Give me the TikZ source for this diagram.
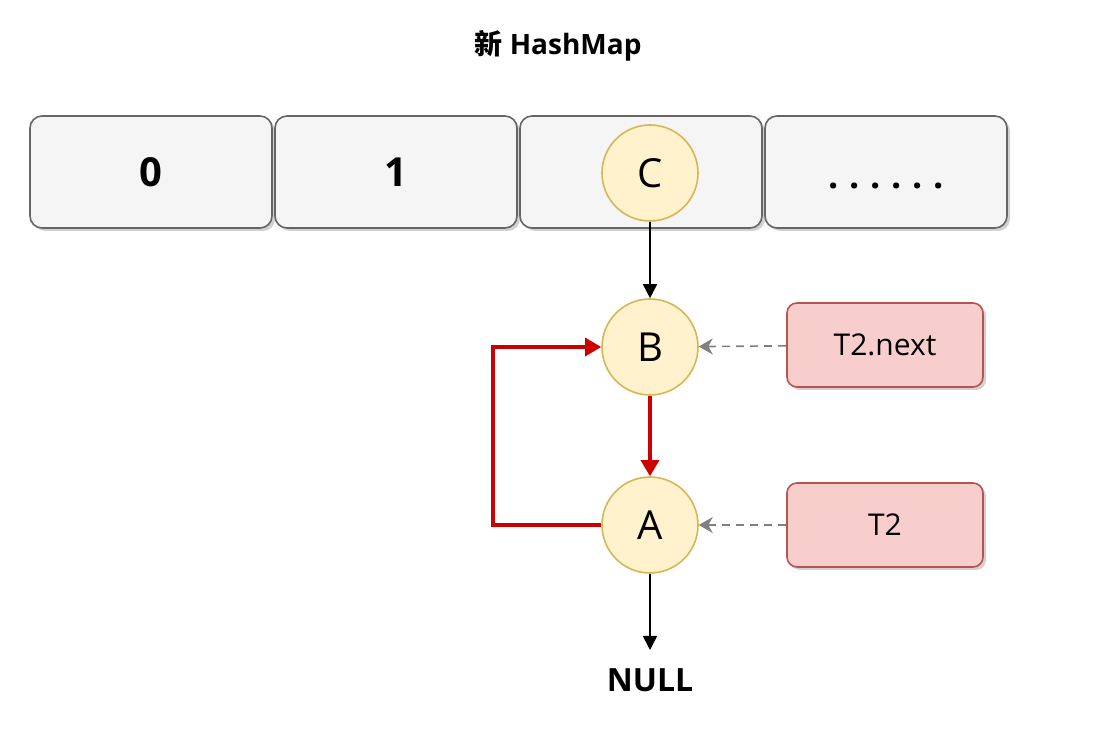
\documentclass[tikz,border=0pt]{standalone}
\usepackage{fontspec}
\setmainfont{Open Sans}
\newfontfamily\cjk{Noto Sans CJK SC}
\usetikzlibrary{arrows.meta,shadows}
\definecolor{cellfill}{HTML}{F5F5F5}
\definecolor{cellline}{HTML}{666666}
\definecolor{nodefill}{HTML}{FFF2CC}
\definecolor{nodeline}{HTML}{D6B656}
\definecolor{ptrfill}{HTML}{F8CECC}
\definecolor{ptrline}{HTML}{B85450}
\definecolor{loopred}{HTML}{CC0000}
\begin{document}
\begin{tikzpicture}[x=0.5pt,y=-0.5pt,
  cell/.style={draw=cellline,fill=cellfill,rounded corners=6pt,line width=0.8pt,
    minimum width=121pt,minimum height=56pt,inner sep=0pt,
    drop shadow={shadow xshift=1.5pt,shadow yshift=-1.5pt,fill=black!30,opacity=0.6},
    font=\fontsize{20}{24}\selectfont\bfseries},
  entry/.style={circle,draw=nodeline,fill=nodefill,line width=0.8pt,minimum size=48pt,inner sep=0pt,
    font=\fontsize{20}{24}\selectfont},
  ptr/.style={draw=ptrline,fill=ptrfill,rounded corners=5pt,line width=0.8pt,
    minimum width=98pt,minimum height=42pt,inner sep=0pt,
    drop shadow={shadow xshift=1.5pt,shadow yshift=-1.5pt,fill=black!30,opacity=0.6},
    font=\fontsize{15}{18}\selectfont},
  link/.style={-{Triangle[length=7pt,width=7pt]},line width=0.8pt,black},
  redlink/.style={-{Triangle[length=8pt,width=9pt]},line width=1.6pt,loopred},
  refer/.style={-{Stealth[length=7pt,width=8pt]},dashed,dash pattern=on 4pt off 3pt,line width=0.8pt,black!50},
]
\useasboundingbox (0,0) rectangle (1099,737);
\node[font=\fontsize{14}{17}\selectfont\bfseries] (title) at (558,46) {{\cjk 新} HashMap};
\node[cell] (c0) at (151,172) {0};
\node[cell] (c1) at (396,172) {1};
\node[cell] (c2) at (641,172) {};
\node[cell] (c3) at (886,172) {};
\node[font=\fontsize{18}{22}\selectfont\bfseries\addfontfeature{LetterSpace=30}] (dots) at (886,186) {......};
\node[entry] (C) at (650,173) {C};
\node[entry] (B) at (650,347) {B};
\node[entry] (A) at (650,525) {A};
\node[ptr] (tn) at (885,345) {T2.next};
\node[ptr] (t2) at (885,525) {T2};
\node[font=\fontsize{16}{19}\selectfont\bfseries] (null) at (650,680) {NULL};
\coordinate (nulltop) at (650,650);
\draw[link] (C) -- (B);
\draw[redlink] (B) -- (A);
\draw[redlink] (A.west) -- (493,525) -- (493,347) -- (B.west);
\draw[link] (A) -- (nulltop);
\draw[refer] (tn) -- (B);
\draw[refer] (t2) -- (A);
\end{tikzpicture}
\end{document}
